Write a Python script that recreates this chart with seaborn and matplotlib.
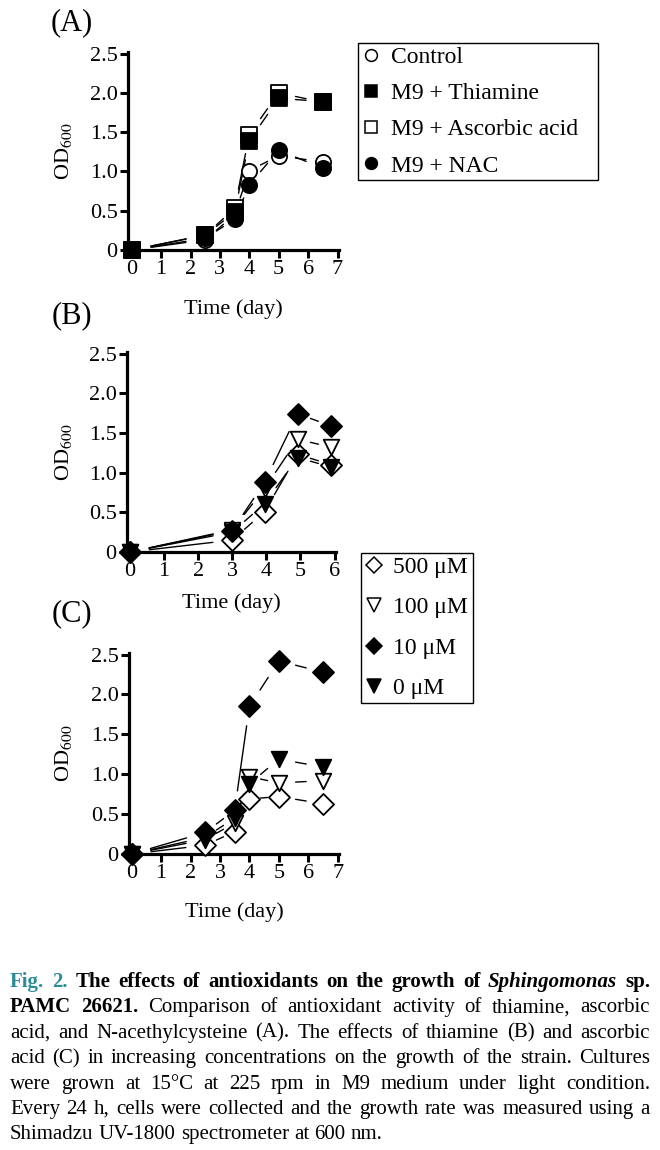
import matplotlib
matplotlib.use("Agg")
import matplotlib.pyplot as plt
from matplotlib.lines import Line2D
import numpy as np
import pandas as pd
import seaborn as sns

sns.set_theme(style="ticks", rc={"axes.edgecolor": "black", "xtick.color": "black",
                                 "ytick.color": "black", "text.color": "black",
                                 "axes.labelcolor": "black"})
plt.rcParams['font.family'] = ['Liberation Serif', 'DejaVu Serif']
plt.rcParams['mathtext.fontset'] = 'stix'

W, H = 660, 1150
DPI = 100

# ---- data ----
# (A) antioxidants
days_a = [0, 2.5, 3.5, 4, 5, 6.5]
control_a = [0, 0.13, 0.45, 1.01, 1.20, 1.12]
thiamine_a = [0, 0.19, 0.48, 1.39, 1.93, 1.89]
ascorbic_a = [0, 0.19, 0.53, 1.47, 2.00, 1.88]
nac_a = [0, 0.15, 0.39, 0.83, 1.27, 1.04]
labels_a = ["Control", "M9 + Thiamine", "M9 + Ascorbic acid", "M9 + NAC"]

# (B) thiamine concentrations
days_b = [0, 3, 3.95, 4.92, 5.9]
b_500 = [0, 0.15, 0.51, 1.23, 1.10]
b_100 = [0, 0.28, 0.80, 1.42, 1.32]
b_10 = [0, 0.27, 0.88, 1.74, 1.59]
b_0 = [0, 0.25, 0.61, 1.19, 1.07]

# (C) ascorbic acid concentrations
days_c = [0, 2.5, 3.5, 4, 5, 6.5]
c_500 = [0, 0.11, 0.28, 0.69, 0.72, 0.63]
c_100 = [0, 0.18, 0.39, 0.97, 0.89, 0.92]
c_10 = [0, 0.27, 0.55, 1.85, 2.42, 2.28]
c_0 = [0, 0.21, 0.45, 0.88, 1.19, 1.09]
labels_conc = ["500 μM", "100 μM", "10 μM", "0 μM"]

yticks = [0, 0.5, 1.0, 1.5, 2.0, 2.5]
ytick_labels = ["0", "0.5", "1.0", "1.5", "2.0", "2.5"]

# marker, filled, size(pt^2), zorder
style_a = [("o", False, 120, 5), ("s", True, 120, 7), ("s", False, 120, 6), ("o", True, 120, 8)]
style_conc = [("D", False, 115, 5), ("v", False, 125, 6), ("D", True, 115, 7), ("v", True, 125, 8)]

fig = plt.figure(figsize=(W / DPI, H / DPI), dpi=DPI)


def add_axes(left, right, top, bottom):
    return fig.add_axes([left / W, 1 - bottom / H, (right - left) / W, (bottom - top) / H])


def draw_panel(ax, days, series, names, styles, xlim, xticks, box, xlab_top):
    left, right, top, bottom = box
    ax.set_xlim(*xlim)
    ax.set_ylim(0, 2.52)
    ax.set_xticks(xticks)
    ax.set_yticks(yticks)
    ax.set_yticklabels(ytick_labels)
    sns.despine(ax=ax)
    for sp in ("left", "bottom"):
        ax.spines[sp].set_linewidth(2.3)
    ax.tick_params(labelsize=16, width=2.2, length=5.5, direction="out", pad=2)

    rows = []
    for name, vals in zip(names, series):
        for d, v in zip(days, vals):
            rows.append({"day": d, "od": v, "group": name})
    df = pd.DataFrame(rows)

    for name, (mk, filled, size, z) in zip(names, styles):
        sub = df[df["group"] == name]
        sns.scatterplot(data=sub, x="day", y="od", marker=mk, s=size,
                        color="black" if filled else "white", edgecolor="black",
                        linewidth=1.3, zorder=z, clip_on=False, legend=False, ax=ax)
        # broken connecting lines (gap next to the symbols)
        xs, ys = sub["day"].to_numpy(), sub["od"].to_numpy()
        for i in range(len(xs) - 1):
            p0 = ax.transData.transform((xs[i], ys[i]))
            p1 = ax.transData.transform((xs[i + 1], ys[i + 1]))
            L = np.hypot(*(p1 - p0))
            gap = min(19.5, 0.38 * L) * 72 / DPI
            ax.annotate("", xy=(xs[i + 1], ys[i + 1]), xytext=(xs[i], ys[i]),
                        arrowprops=dict(arrowstyle="-", color="black", lw=1.0,
                                        shrinkA=gap, shrinkB=gap),
                        annotation_clip=False, zorder=2)

    ax.set_xlabel("Time (day)", fontsize=16)
    ax.set_ylabel("OD$_{600}$", fontsize=16)
    w = right - left
    h = bottom - top
    ax.xaxis.set_label_coords(0.5, -(xlab_top - bottom) / h)
    ax.yaxis.set_label_coords((74 - left) / w, 0.5)


box_a = (128, 339, 52, 250)
ax_a = add_axes(*box_a)
draw_panel(ax_a, days_a, [control_a, thiamine_a, ascorbic_a, nac_a], labels_a, style_a,
           (-0.126, 7.05), range(8), box_a, 299)

box_b = (127, 336, 352, 552)
ax_b = add_axes(*box_b)
draw_panel(ax_b, days_b, [b_500, b_100, b_10, b_0], labels_conc, style_conc,
           (-0.088, 6.044), range(7), box_b, 593)

box_c = (129, 339, 653, 854)
ax_c = add_axes(*box_c)
draw_panel(ax_c, days_c, [c_500, c_100, c_10, c_0], labels_conc, style_conc,
           (-0.09, 7.045), range(8), box_c, 902)

# panel letters
for lab, yc in (("(A)", 23), ("(B)", 316), ("(C)", 614)):
    fig.text(72 / W, 1 - yc / H, lab, fontsize=22, ha="center", va="center")


def make_handles(styles):
    hs = []
    for mk, filled, size, z in styles:
        ms = 8.5 if mk in "os" else (8.5 if mk == "D" else 9.5)
        hs.append(Line2D([], [], marker=mk, ls="none", ms=ms, mew=1.1,
                         mfc="black" if filled else "white", mec="black"))
    return hs


def add_legend(handles, labels, box, spacing, pad):
    x0, x1, y0, y1 = box
    leg = fig.legend(handles, labels, loc="upper left", mode="expand",
                     bbox_to_anchor=(x0 / W, 1 - y1 / H, (x1 - x0) / W, (y1 - y0) / H),
                     fontsize=17, frameon=True, fancybox=False, edgecolor="black",
                     framealpha=1, handlelength=0.8, handletextpad=pad,
                     labelspacing=spacing, borderpad=0.15, borderaxespad=0)
    leg.get_frame().set_linewidth(1.0)
    return leg


add_legend(make_handles(style_a), labels_a, (358, 598, 43, 178), 0.62, 0.45)
add_legend(make_handles(style_conc), labels_conc, (361, 473, 553, 706), 0.8, 0.4)

# ---- caption, justified word by word ----
caption_lines = [
    [("Fig. 2.", "fig"), ("The effects of antioxidants on the growth of", "b"),
     ("Sphingomonas", "bi"), ("sp.", "b")],
    [("PAMC 26621.", "b"), ("Comparison of antioxidant activity of thiamine, ascorbic", "r")],
    [("acid, and N-acethylcysteine (A). The effects of thiamine (B) and ascorbic", "r")],
    [("acid (C) in increasing concentrations on the growth of the strain. Cultures", "r")],
    [("were grown at 15°C at 225 rpm in M9 medium under light condition.", "r")],
    [("Every 24 h, cells were collected and the growth rate was measured using a", "r")],
    [("Shimadzu UV-1800 spectrometer at 600 nm.", "r")],
]
run_style = {
    "fig": dict(weight="bold", color="#2a8d98"),
    "b": dict(weight="bold"),
    "bi": dict(weight="bold", style="italic"),
    "r": dict(),
}
cap_left, cap_right = 10, 650
cap_base0, cap_step = 987, 25.4
cap_size = 15

renderer = fig.canvas.get_renderer()
for li, runs in enumerate(caption_lines):
    words = []
    for txt, st in runs:
        for wd in txt.split(" "):
            words.append((wd, st))
    base = 1 - (cap_base0 + li * cap_step) / H
    texts = [fig.text(0, base, wd, fontsize=cap_size, va="baseline", ha="left",
                      **run_style[st]) for wd, st in words]
    widths = [t.get_window_extent(renderer).width for t in texts]
    last = li == len(caption_lines) - 1
    if last:
        gap = 0.25 * cap_size * DPI / 72
    else:
        gap = (cap_right - cap_left - sum(widths)) / (len(words) - 1)
    x = cap_left
    for t, wdt in zip(texts, widths):
        t.set_x(x / W)
        x += wdt + gap

fig.savefig("out.png", dpi=DPI)
